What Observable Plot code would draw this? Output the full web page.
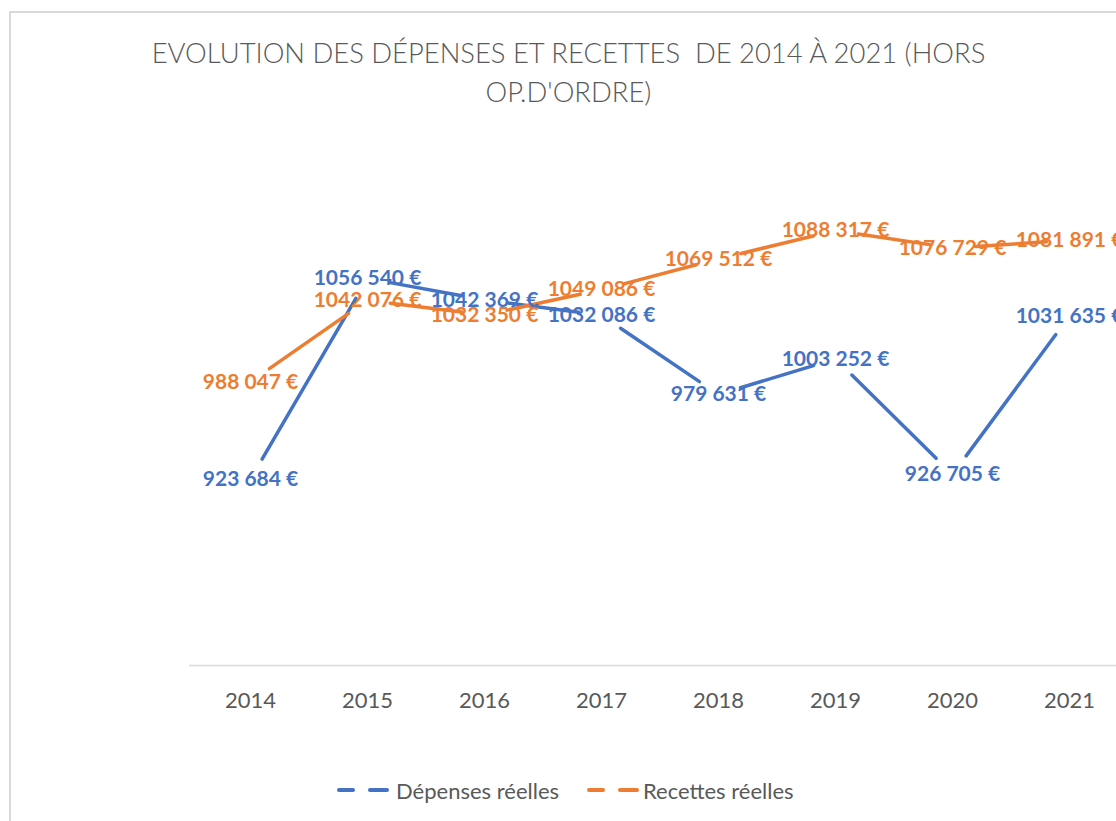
<!DOCTYPE html>
<html>
<head>
<meta charset="utf-8">
<script src="https://cdn.jsdelivr.net/npm/d3@7"></script>
<script src="https://cdn.jsdelivr.net/npm/@observablehq/plot@0.6"></script>
<style>
  html, body { margin: 0; padding: 0; background: #fff; }
  body { width: 1116px; height: 821px; overflow: hidden; position: relative; font-family: Lato, "Open Sans", sans-serif; }
  #frame { position: absolute; left: 9px; top: 11px; width: 1120px; height: 900px; border: 2px solid #d9d9d9; box-sizing: border-box; }
  #title { position: absolute; left: 0; top: 33px; width: 1137px; text-align: center; font-family: Lato, sans-serif; font-weight: 300; font-size: 27.4px; line-height: 39px; color: #595959; white-space: pre; }
  #chart { position: absolute; left: 0; top: 0; width: 1131px; }
  #chart svg { max-width: none !important; }
  .leg { position: absolute; top: 778px; height: 24px; display: flex; align-items: center; font-family: Lato, sans-serif; font-size: 22px; color: #595959; white-space: nowrap; }
  .leg svg { display: block; }
</style>
</head>
<body>
<div id="frame"></div>
<div id="title"></div>
<div id="chart"></div>
<div id="legend"></div>
<script>
const titleLines = ["EVOLUTION DES DÉPENSES ET RECETTES  DE 2014 À 2021 (HORS", "OP.D'ORDRE)"];
const years = ["2014", "2015", "2016", "2017", "2018", "2019", "2020", "2021"];
const depenses = [923684, 1056540, 1042369, 1032086, 979631, 1003252, 926705, 1031635];
const recettes = [988047, 1042076, 1032350, 1049086, 1069512, 1088317, 1076729, 1081891];
const seriesNames = ["Dépenses réelles", "Recettes réelles"];
const seriesColors = ["#4472C4", "#ED7D31"];
const seriesValues = [depenses, recettes];

document.getElementById("title").textContent = titleLines.join("\n");

const fmt = v => `${Math.floor(v / 1000)} ${String(v % 1000).padStart(3, "0")} €`;

const points = [];
const segments = [];
seriesNames.forEach((name, s) => {
  const vals = seriesValues[s];
  years.forEach((yr, i) => {
    points.push({series: name, year: yr, value: vals[i], label: fmt(vals[i])});
    if (i > 0) segments.push({series: name, x1: years[i - 1], y1: vals[i - 1], x2: yr, y2: vals[i]});
  });
});

const chart = Plot.plot({
  width: 1131,
  height: 760,
  marginLeft: 189,
  marginRight: 1,
  marginTop: 212.4,
  marginBottom: 95,
  style: {fontFamily: "Lato, sans-serif", background: "transparent", overflow: "visible", maxWidth: "none"},
  x: {type: "point", domain: years, padding: 0.5, label: null},
  y: {domain: [800000, 1100000], axis: null},
  color: {domain: seriesNames, range: seriesColors},
  marks: [
    Plot.ruleY([800000], {stroke: "#d9d9d9", strokeWidth: 1.5}),
    Plot.axisX({tickSize: 0, tickPadding: 27, fontSize: 22, color: "#595959", label: null}),
    Plot.arrow(segments, {
      x1: "x1", y1: "y1", x2: "x2", y2: "y2",
      stroke: "series", strokeWidth: 3.5, headLength: 0, bend: 0, inset: 23
    }),
    Plot.text(points, {
      x: "year", y: "value", text: "label", fill: "series",
      fontSize: 21, fontWeight: "bold"
    })
  ]
});
document.getElementById("chart").appendChild(chart);

// legend
const legend = document.getElementById("legend");
const legLeft = [337, 587];
const textGap = [7, 4];
seriesNames.forEach((name, s) => {
  const item = document.createElement("div");
  item.className = "leg";
  item.style.left = legLeft[s] + "px";
  item.innerHTML = `<svg width="52" height="10"><line x1="2" y1="5" x2="16" y2="5" stroke="${seriesColors[s]}" stroke-width="4" stroke-linecap="round"/><line x1="33" y1="5" x2="50" y2="5" stroke="${seriesColors[s]}" stroke-width="4" stroke-linecap="round"/></svg><span style="margin-left:${textGap[s]}px">${name}</span>`;
  legend.appendChild(item);
});
</script>
</body>
</html>
